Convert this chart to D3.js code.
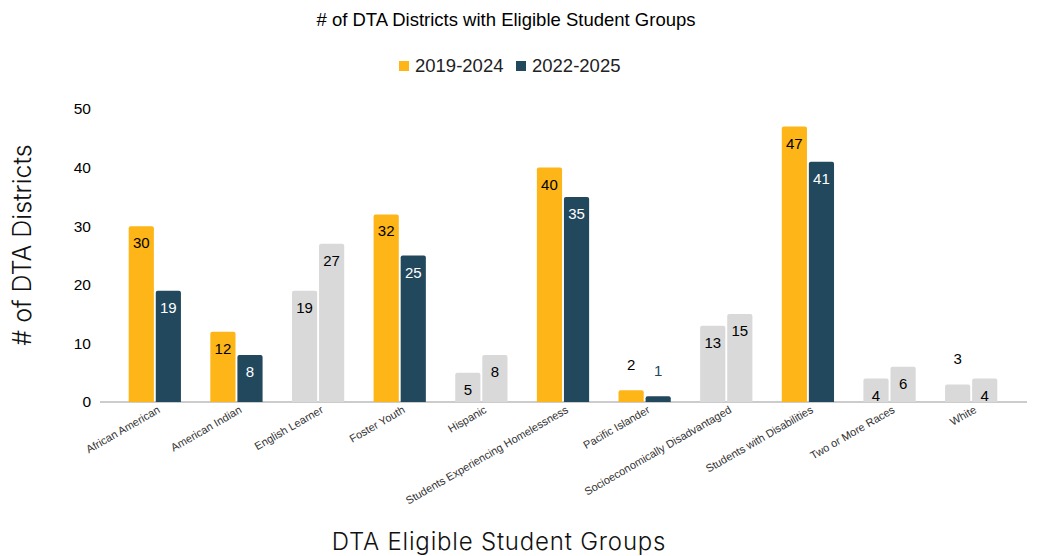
<!DOCTYPE html>
<html>
<head>
<meta charset="utf-8">
<script src="https://cdn.jsdelivr.net/npm/d3@7"></script>
<style>
  body { margin: 0; background: #fff; }
  svg text { font-family: "Liberation Sans", Arial, sans-serif; }
</style>
</head>
<body>
<div class="chart"></div>
<script>
// Data
const categories = ["African American", "American Indian", "English Learner", "Foster Youth", "Hispanic",
  "Students Experiencing Homelessness", "Pacific Islander", "Socioeconomically Disadvantaged",
  "Students with Disabilities", "Two or More Races", "White"];
const series = ["2019-2024", "2022-2025"];
const values2019 = [30, 12, 19, 32, 5, 40, 2, 13, 47, 4, 3];
const values2022 = [19, 8, 27, 25, 8, 35, 1, 15, 41, 6, 4];
// groups shown in color (the rest are grey)
const highlighted = ["African American", "American Indian", "Foster Youth",
  "Students Experiencing Homelessness", "Pacific Islander", "Students with Disabilities"];
const yTicks = [0, 10, 20, 30, 40, 50];

const W = 1037, H = 556;
const colors = { "2019-2024": "#fdb517", "2022-2025": "#22485e" };
const grey = "#d9d9d9";

const rows = [];
categories.forEach((c, i) => {
  rows.push({ cat: c, s: series[0], v: values2019[i] });
  rows.push({ cat: c, s: series[1], v: values2022[i] });
});

const svg = d3.select(".chart").append("svg")
  .attr("width", W)
  .attr("height", H);

// scales
const x = d3.scaleBand()
  .domain(categories)
  .range([114, 1012])
  .paddingInner(0.36)
  .paddingOuter(0.18);

const xs = d3.scaleBand()
  .domain(series)
  .range([0, x.bandwidth()])
  .paddingInner(0.07);

const y = d3.scaleLinear()
  .domain([0, 50])
  .range([402, 109]);

// title
svg.append("text")
  .attr("x", 506)
  .attr("y", 26)
  .attr("text-anchor", "middle")
  .style("font-size", "18.5px")
  .style("fill", "#000")
  .text("# of DTA Districts with Eligible Student Groups");

// legend
const legend = svg.append("g").attr("transform", "translate(399, 66)");
const legX = [0, 117];
series.forEach((s, i) => {
  const g = legend.append("g").attr("transform", `translate(${legX[i]},0)`);
  g.append("rect")
    .attr("x", 0).attr("y", -5)
    .attr("width", 10).attr("height", 10)
    .style("fill", colors[s]);
  g.append("text")
    .attr("x", 16).attr("y", 0)
    .attr("dy", "0.35em")
    .style("font-size", "18.5px")
    .style("fill", "#222")
    .text(s);
});

// y axis
const yAxis = svg.append("g")
  .attr("transform", "translate(91,0)")
  .call(d3.axisLeft(y).tickValues(yTicks).tickSize(0).tickPadding(0));
yAxis.select(".domain").remove();
yAxis.selectAll("text")
  .style("font-size", "15.5px")
  .style("fill", "#000")
  .style("font-family", "Liberation Sans, Arial, sans-serif");

// baseline
svg.append("line")
  .attr("x1", 100).attr("x2", 1027)
  .attr("y1", y(0)).attr("y2", y(0))
  .style("stroke", "#999")
  .style("stroke-width", 1.2);

// bars (rounded top corners)
function barPath(x0, w, top, bottom, r) {
  r = Math.min(r, (bottom - top) / 2, w / 2);
  return `M${x0},${bottom}V${top + r}Q${x0},${top} ${x0 + r},${top}H${x0 + w - r}Q${x0 + w},${top} ${x0 + w},${top + r}V${bottom}Z`;
}

const fillOf = d => highlighted.includes(d.cat) ? colors[d.s] : grey;

svg.append("g").selectAll("path")
  .data(rows)
  .enter()
  .append("path")
  .attr("d", d => barPath(x(d.cat) + xs(d.s), xs.bandwidth(), y(d.v), y(0), 2))
  .style("fill", fillOf);

// value labels
svg.append("g").selectAll("text")
  .data(rows)
  .enter()
  .append("text")
  .attr("x", d => x(d.cat) + xs(d.s) + xs.bandwidth() / 2)
  .attr("y", d => d.v < 4 ? y(d.v) - 20 : y(d.v) + 22)
  .attr("text-anchor", "middle")
  .style("font-size", "15px")
  .style("fill", d => {
    if (d.v < 4) return d.s === series[1] && highlighted.includes(d.cat) ? colors[d.s] : "#000";
    if (!highlighted.includes(d.cat)) return "#000";
    return d.s === series[1] ? "#fff" : "#000";
  })
  .text(d => d.v);

// x labels
svg.append("g").selectAll("text")
  .data(categories)
  .enter()
  .append("text")
  .attr("transform", d => `translate(${x(d) + x.bandwidth() / 2 + 6},${412}) rotate(-30)`)
  .attr("text-anchor", "end")
  .style("font-size", "11px")
  .style("fill", "#333")
  .text(d => d);

// axis titles
svg.append("text")
  .attr("transform", "translate(31,245) rotate(-90)")
  .attr("text-anchor", "middle")
  .style("font-family", "Inter, sans-serif")
  .style("font-weight", 300)
  .style("font-size", "25px")
  .style("fill", "#111")
  .text("# of DTA Districts");

svg.append("text")
  .attr("x", 499)
  .attr("y", 550)
  .attr("text-anchor", "middle")
  .style("font-family", "Inter, sans-serif")
  .style("font-weight", 300)
  .style("font-size", "24px")
  .style("letter-spacing", "0.8px")
  .style("fill", "#111")
  .text("DTA Eligible Student Groups");
</script>
</body>
</html>
